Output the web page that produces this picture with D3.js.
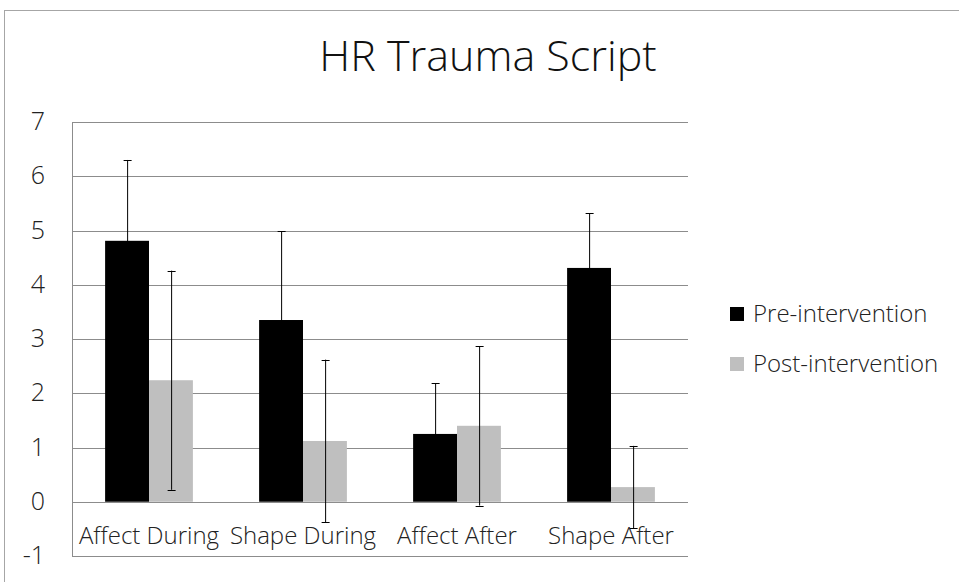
<!DOCTYPE html>
<html>
<head>
<meta charset="utf-8">
<script src="https://cdn.jsdelivr.net/npm/d3@7"></script>
<style>
  body { margin: 0; background: #fff; }
  svg { display: block; }
  svg text { font-family: "Open Sans", "Noto Sans", sans-serif; font-weight: 300; }
</style>
</head>
<body>
<svg class="chart" width="959" height="582"></svg>
<script>
//chart data
let categories = ["Affect During", "Shape During", "Affect After", "Shape After"];
let seriesNames = ["Pre-intervention", "Post-intervention"];
let preValues = [4.81, 3.35, 1.25, 4.31];
let postValues = [2.24, 1.12, 1.40, 0.27];
let preErrors = [1.49, 1.64, 0.93, 1.01];
let postErrors = [2.02, 1.50, 1.47, 0.76];
let yTicks = [-1, 0, 1, 2, 3, 4, 5, 6, 7];
let colors = ["#000000", "#bfbfbf"];

let svg = d3.select(".chart"),
	margin = {top: 122, right: 271, bottom: 26, left: 72},
	width = svg.attr("width") - margin.left - margin.right,
	height = svg.attr("height") - margin.top - margin.bottom,
	g = svg.append("g").attr("transform", "translate(" + margin.left + "," + margin.top + ")");

//outer frame
svg.append("rect")
	.attr("x", 4.5)
	.attr("y", 10.5)
	.attr("width", 1000)
	.attr("height", 1000)
	.style("fill", "none")
	.style("stroke", "#a6a6a6");

//scales
let x0 = d3.scaleBand().domain(categories).range([0, width]).paddingInner(0.43).paddingOuter(0.215);
let x1 = d3.scaleBand().domain(seriesNames).range([0, x0.bandwidth()]);
let y = d3.scaleLinear().domain([-1, 7]).range([height, 0]);

//grid lines
g.append("g")
	.attr("class", "grid")
	.selectAll("line")
	.data(yTicks)
	.enter()
	.append("line")
	.attr("x1", 0)
	.attr("x2", width)
	.attr("y1", function(d) { return Math.round(y(d)) + 0.5; })
	.attr("y2", function(d) { return Math.round(y(d)) + 0.5; })
	.style("stroke", "#8c8c8c")
	.style("stroke-width", 1);

//left axis
let yAxis = g.append("g")
	.attr("class", "y-axis")
	.call(d3.axisLeft(y).tickValues(yTicks).tickFormat(function(d) { return String(d); }).tickSize(0).tickPadding(27));
yAxis.select(".domain")
	.attr("d", "M0.5," + y(-1) + "V" + y(7))
	.style("stroke", "#8c8c8c");
yAxis.selectAll("text")
	.attr("dy", "0.3em")
	.style("font-size", "25px")
	.style("fill", "#222");

//bars
let groups = g.selectAll(".group")
	.data(categories)
	.enter()
	.append("g")
	.attr("class", "group")
	.attr("transform", function(d) { return "translate(" + x0(d) + ",0)"; });

let barData = function(d, i) {
	return [
		{series: seriesNames[0], value: preValues[i], err: preErrors[i], color: colors[0]},
		{series: seriesNames[1], value: postValues[i], err: postErrors[i], color: colors[1]}
	];
};

groups.selectAll(".bar")
	.data(barData)
	.enter()
	.append("rect")
	.attr("class", "bar")
	.attr("x", function(d) { return x1(d.series); })
	.attr("y", function(d) { return y(d.value); })
	.attr("width", x1.bandwidth())
	.attr("height", function(d) { return y(0) - y(d.value); })
	.style("fill", function(d) { return d.color; });

//error bars
let errs = groups.selectAll(".err")
	.data(barData)
	.enter()
	.append("g")
	.attr("class", "err")
	.attr("transform", function(d) { return "translate(" + (Math.round(x1(d.series) + x1.bandwidth() / 2) + 0.5) + ",0)"; })
	.style("stroke", "#000")
	.style("stroke-width", 1);

errs.append("line")
	.attr("y1", function(d) { return y(d.value + d.err); })
	.attr("y2", function(d) { return y(d.value - d.err); });
errs.append("line")
	.attr("x1", -4).attr("x2", 4)
	.attr("y1", function(d) { return Math.round(y(d.value + d.err)) + 0.5; })
	.attr("y2", function(d) { return Math.round(y(d.value + d.err)) + 0.5; });
errs.append("line")
	.attr("x1", -4).attr("x2", 4)
	.attr("y1", function(d) { return Math.round(y(d.value - d.err)) + 0.5; })
	.attr("y2", function(d) { return Math.round(y(d.value - d.err)) + 0.5; });

//category labels
g.append("g")
	.attr("class", "x-labels")
	.selectAll("text")
	.data(categories)
	.enter()
	.append("text")
	.attr("x", function(d) { return x0(d) + x0.bandwidth() / 2; })
	.attr("y", y(0) + 42)
	.attr("text-anchor", "middle")
	.style("font-size", "24px")
	.style("fill", "#222")
	.text(function(d) { return d; });

//title
svg.append("text")
	.attr("x", 488)
	.attr("y", 71)
	.attr("text-anchor", "middle")
	.style("font-size", "43px")
	.style("fill", "#111")
	.text("HR Trauma Script");

//legend
let legend = svg.append("g")
	.attr("class", "legend")
	.selectAll("g")
	.data(seriesNames)
	.enter()
	.append("g")
	.attr("transform", function(d, i) { return "translate(730," + (307 + i * 50) + ")"; });

legend.append("rect")
	.attr("width", 14)
	.attr("height", 14)
	.style("fill", function(d, i) { return colors[i]; });

legend.append("text")
	.attr("x", 23)
	.attr("y", 7)
	.attr("dy", "0.35em")
	.style("font-size", "24px")
	.style("fill", "#222")
	.text(function(d) { return d; });
</script>
</body>
</html>
